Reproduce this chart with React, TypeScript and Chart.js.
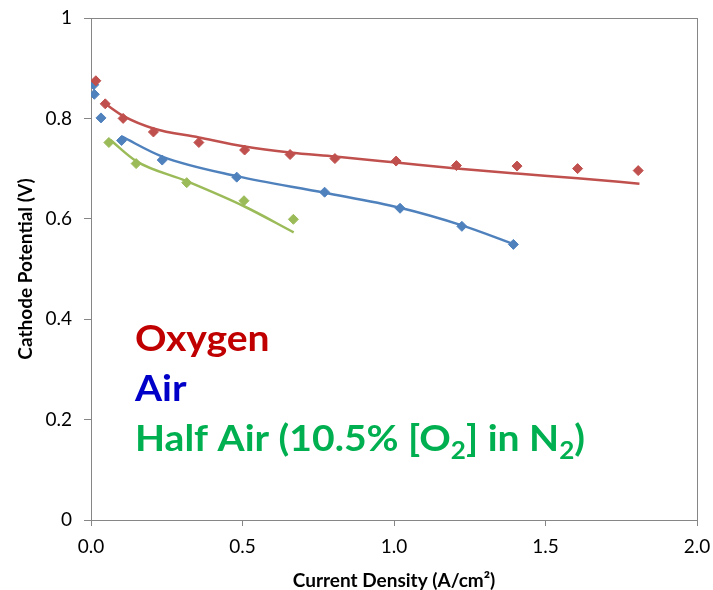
import React, { useEffect, useRef } from "react";
import { Chart, registerables } from "chart.js";

Chart.register(...registerables);

// ---- Data ----
const oxygenX = [0.016, 0.047, 0.106, 0.206, 0.356, 0.507, 0.657, 0.805, 1.007, 1.206, 1.406, 1.606, 1.806];
const oxygenY = [0.875, 0.829, 0.8, 0.773, 0.752, 0.737, 0.728, 0.72, 0.715, 0.706, 0.705, 0.7, 0.696];

const airX = [0.009, 0.011, 0.033, 0.101, 0.235, 0.481, 0.771, 1.02, 1.224, 1.394];
const airY = [0.867, 0.848, 0.801, 0.756, 0.717, 0.683, 0.653, 0.621, 0.585, 0.549];

const halfAirX = [0.059, 0.149, 0.316, 0.505, 0.668];
const halfAirY = [0.752, 0.71, 0.672, 0.636, 0.599];

// fitted curves
const oxygenFitX = [0.045, 0.106, 0.206, 0.356, 0.507, 0.657, 0.805, 1.007, 1.206, 1.406, 1.606, 1.81];
const oxygenFitY = [0.83, 0.805, 0.78, 0.762, 0.744, 0.732, 0.724, 0.712, 0.7, 0.69, 0.681, 0.67];

const airFitX = [0.101, 0.235, 0.481, 0.771, 1.02, 1.224, 1.394];
const airFitY = [0.764, 0.724, 0.685, 0.652, 0.622, 0.587, 0.55];

const halfAirFitX = [0.064, 0.149, 0.316, 0.505, 0.669];
const halfAirFitY = [0.757, 0.715, 0.675, 0.625, 0.573];

const yTicks = [0, 0.2, 0.4, 0.6, 0.8, 1];
const xTicks = [0, 0.5, 1, 1.5, 2];

const xTitle = "Current Density (A/cm²)";
const yTitle = "Cathode Potential (V)";

// legend text lines, as segments (sub = subscript)
const legendOxygen = [{ t: "Oxygen" }];
const legendAir = [{ t: "Air" }];
const legendHalfAir = [
  { t: "Half Air (10.5% [O" },
  { t: "2", sub: true },
  { t: "] in N" },
  { t: "2", sub: true },
  { t: ")" },
];

const toPts = (xs: number[], ys: number[]) => xs.map((x, i) => ({ x, y: ys[i] }));

const RED = "#C0504D";
const BLUE = "#4F81BD";
const GREEN = "#9BBB59";
const AXIS = "#868686";
const FONT = "Lato, 'Open Sans', sans-serif";

const borderPlugin = {
  id: "plotBorder",
  beforeDatasetsDraw(chart: any) {
    const { ctx, chartArea } = chart;
    ctx.save();
    ctx.strokeStyle = AXIS;
    ctx.lineWidth = 1;
    ctx.strokeRect(
      Math.round(chartArea.left) + 0.5,
      Math.round(chartArea.top) + 0.5,
      Math.round(chartArea.right - chartArea.left),
      Math.round(chartArea.bottom - chartArea.top)
    );
    ctx.restore();
  },
};

const textLegendPlugin = {
  id: "textLegend",
  afterDraw(chart: any) {
    const ctx: CanvasRenderingContext2D = chart.ctx;
    const size = 36;
    const main = `bold ${size}px ${FONT}`;
    const sub = `bold ${Math.round(size * 0.68)}px ${FONT}`;
    const lines = [
      { segs: legendOxygen, color: "#C00000", base: 351 },
      { segs: legendAir, color: "#0000C8", base: 401 },
      { segs: legendHalfAir, color: "#00B050", base: 451 },
    ];
    const measure = (segs: any[]) => {
      let w = 0;
      for (const s of segs) {
        ctx.font = s.sub ? sub : main;
        w += ctx.measureText(s.t).width;
      }
      return w;
    };
    ctx.save();
    const sx = 450 / measure(legendHalfAir);
    const left = 135;
    for (const line of lines) {
      ctx.save();
      ctx.translate(left, line.base);
      ctx.scale(sx, 1);
      ctx.fillStyle = line.color;
      ctx.textBaseline = "alphabetic";
      ctx.textAlign = "left";
      let x = 0;
      for (const s of line.segs as any[]) {
        ctx.font = s.sub ? sub : main;
        ctx.fillText(s.t, x, s.sub ? 8 : 0);
        x += ctx.measureText(s.t).width;
      }
      ctx.restore();
    }
    ctx.restore();
  },
};

export default function App() {
  const ref = useRef<HTMLCanvasElement | null>(null);
  useEffect(() => {
    document.body.style.margin = "0";
    if (!ref.current) return;
    const marker = (label: string, xs: number[], ys: number[], color: string, order: number) => ({
      label,
      data: toPts(xs, ys),
      pointStyle: "rectRot",
      pointRadius: 5,
      backgroundColor: color,
      borderColor: color,
      borderWidth: 1,
      showLine: false,
      order,
    });
    const fit = (label: string, xs: number[], ys: number[], color: string, order: number) => ({
      label,
      data: toPts(xs, ys),
      showLine: true,
      pointRadius: 0,
      borderColor: color,
      backgroundColor: color,
      borderWidth: 2.5,
      cubicInterpolationMode: "monotone",
      order,
    });
    const chart = new Chart(ref.current, {
      type: "scatter",
      data: {
        datasets: [
          marker("Oxygen", oxygenX, oxygenY, RED, 0),
          marker("Air", airX, airY, BLUE, 1),
          marker("Half Air", halfAirX, halfAirY, GREEN, 2),
          fit("Oxygen fit", oxygenFitX, oxygenFitY, RED, 3),
          fit("Air fit", airFitX, airFitY, BLUE, 4),
          fit("Half Air fit", halfAirFitX, halfAirFitY, GREEN, 5),
        ],
      },
      options: {
        responsive: false,
        animation: false,
        layout: { padding: { left: 0, top: 18, right: 16, bottom: 0 } },
        plugins: {
          legend: { display: false },
          tooltip: { enabled: false },
        },
        scales: {
          x: {
            type: "linear",
            min: 0,
            max: 2,
            afterFit: (s: any) => {
              s.height = 70;
              s.paddingLeft = 0;
              s.paddingRight = 0;
              s.paddingTop = 0;
              s.paddingBottom = 0;
            },
            afterBuildTicks: (s: any) => {
              s.ticks = xTicks.map((v) => ({ value: v }));
            },
            ticks: {
              color: "#000",
              font: { family: FONT, size: 19 },
              padding: 9,
              callback: (v: any) => Number(v).toFixed(1),
              maxRotation: 0,
            },
            grid: {
              drawOnChartArea: false,
              drawTicks: true,
              tickLength: 6,
              color: AXIS,
            },
            border: { color: AXIS, width: 1 },
            title: {
              display: true,
              text: xTitle,
              color: "#000",
              font: { family: FONT, size: 19, weight: "bold", lineHeight: 1 },
              padding: { top: 0, bottom: 0 },
            },
          },
          y: {
            type: "linear",
            min: 0,
            max: 1,
            afterFit: (s: any) => {
              s.width = 91;
              s.paddingLeft = 0;
              s.paddingRight = 0;
              s.paddingTop = 0;
              s.paddingBottom = 0;
            },
            afterBuildTicks: (s: any) => {
              s.ticks = yTicks.map((v) => ({ value: v }));
            },
            ticks: {
              color: "#000",
              font: { family: FONT, size: 19 },
              padding: 12,
              callback: (v: any) => String(Math.round(Number(v) * 10) / 10),
            },
            grid: {
              drawOnChartArea: false,
              drawTicks: true,
              tickLength: 7,
              color: AXIS,
            },
            border: { color: AXIS, width: 1 },
            title: {
              display: true,
              text: yTitle,
              color: "#000",
              font: { family: FONT, size: 19, weight: "bold", lineHeight: 1 },
              padding: { top: 16, bottom: 0 },
            },
          },
        },
      },
      plugins: [borderPlugin, textLegendPlugin],
    } as any);
    return () => chart.destroy();
  }, []);
  return (
    <div style={{ width: 713, height: 590, background: "#fff" }}>
      <canvas ref={ref} width={713} height={590} />
    </div>
  );
}
